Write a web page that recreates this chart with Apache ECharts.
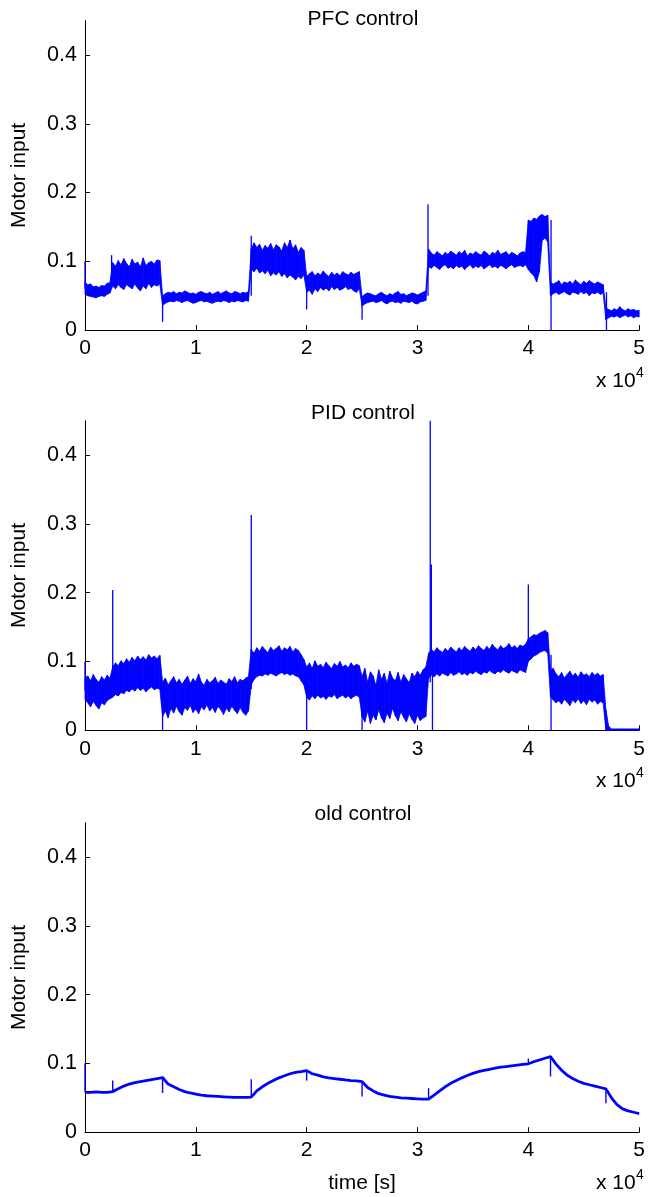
<!DOCTYPE html>
<html><head><meta charset="utf-8">
<script src="https://cdn.jsdelivr.net/npm/echarts@6/dist/echarts.min.js"></script>
<style>html,body{margin:0;padding:0;background:#fff}#c{width:648px;height:1197px}</style>
</head><body><div id="c"></div>
<script>
// ---------------- data ----------------
const panelTitles = ['PFC control', 'PID control', 'old control'];
const yTickValues = [0, 0.1, 0.2, 0.3, 0.4];
const xTickValues = [0, 10000, 20000, 30000, 40000, 50000];
const bandStep = 250;   // seconds between envelope samples (PFC, PID)
const oldStep = 500;    // seconds between samples (old control)

// PFC control: lower / upper envelope of the noisy signal
const pfcLo = [
  0.052,0.050,0.049,0.048,0.047,0.049,0.050,0.049,0.052,0.054,
  0.064,0.060,0.066,0.062,0.059,0.066,0.063,0.060,0.067,0.061,0.057,0.064,0.060,0.068,0.062,0.066,0.064,0.067,
  0.036,0.039,0.041,0.042,0.041,0.043,0.042,0.040,0.042,0.043,0.041,0.039,0.040,0.042,0.043,0.041,0.042,0.040,0.039,0.041,0.042,0.041,0.043,0.042,0.040,0.042,0.041,0.043,0.042,0.041,0.043,0.042,
  0.088,0.085,0.090,0.083,0.086,0.082,0.087,0.079,0.083,0.080,0.085,0.078,0.082,0.076,0.080,0.077,0.073,0.078,0.075,0.080,
  0.055,0.058,0.052,0.060,0.056,0.062,0.058,0.061,0.057,0.063,0.059,0.062,0.058,0.060,0.063,0.059,0.061,0.057,0.055,0.060,
  0.035,0.038,0.040,0.041,0.042,0.040,0.041,0.043,0.040,0.038,0.041,0.042,0.040,0.041,0.039,0.042,0.041,0.040,0.042,0.039,0.038,0.041,0.042,0.043,
  0.092,0.090,0.094,0.091,0.088,0.093,0.095,0.090,0.092,0.089,0.094,0.091,0.093,0.088,0.092,0.095,0.090,0.093,0.091,0.094,0.089,0.092,0.095,0.091,0.093,0.090,0.094,0.092,0.089,0.093,0.095,0.091,0.093,0.094,0.092,0.095,
  0.088,0.083,0.079,0.070,0.085,0.130,0.134,0.128,
  0.050,0.053,0.055,0.052,0.054,0.056,0.053,0.051,0.055,0.054,0.052,0.056,0.053,0.055,0.050,0.054,0.053,0.055,0.052,0.054,
  0.015,0.018,0.020,0.019,0.021,0.018,0.020,0.022,0.019,0.021,0.018,0.020,0.019
];
const pfcHi = [
  0.070,0.066,0.067,0.063,0.064,0.062,0.065,0.064,0.068,0.069,
  0.098,0.093,0.101,0.095,0.104,0.097,0.092,0.103,0.096,0.099,0.092,0.105,0.094,0.098,0.100,0.096,0.102,0.101,
  0.050,0.053,0.055,0.054,0.056,0.053,0.055,0.054,0.057,0.055,0.053,0.054,0.052,0.055,0.056,0.054,0.053,0.055,0.052,0.054,0.056,0.053,0.055,0.057,0.054,0.053,0.056,0.055,0.053,0.055,0.054,0.056,
  0.118,0.127,0.120,0.125,0.116,0.123,0.119,0.126,0.117,0.124,0.121,0.115,0.127,0.120,0.131,0.118,0.124,0.113,0.120,0.116,
  0.078,0.082,0.085,0.079,0.083,0.080,0.086,0.081,0.078,0.084,0.080,0.083,0.079,0.085,0.082,0.080,0.084,0.081,0.083,0.085,
  0.048,0.052,0.054,0.053,0.051,0.050,0.053,0.055,0.052,0.050,0.053,0.051,0.054,0.056,0.052,0.053,0.050,0.052,0.054,0.053,0.051,0.053,0.055,0.057,
  0.118,0.112,0.109,0.114,0.111,0.108,0.113,0.110,0.115,0.112,0.109,0.114,0.111,0.116,0.108,0.112,0.110,0.114,0.111,0.109,0.115,0.112,0.108,0.113,0.111,0.116,0.110,0.112,0.114,0.109,0.113,0.111,0.108,0.112,0.114,0.113,
  0.160,0.158,0.163,0.161,0.166,0.168,0.165,0.167,
  0.070,0.067,0.069,0.072,0.066,0.070,0.068,0.071,0.067,0.073,0.069,0.066,0.071,0.068,0.072,0.069,0.067,0.070,0.068,0.066,
  0.032,0.030,0.028,0.031,0.029,0.034,0.030,0.028,0.031,0.029,0.030,0.028,0.029
];
// [time, from, to]
const pfcSpikes = [[0,0.060,0.100],[2400,0.065,0.109],[7000,0.050,0.012],[15000,0.050,0.137],[20000,0.075,0.030],
  [25000,0.050,0.015],[30950,0.050,0.183],[42050,0.160,0.0],[47050,0.055,0.0]];

// PID control
const pidLo = [
  0.045,0.040,0.034,0.042,0.036,0.031,0.040,0.037,0.043,0.046,
  0.048,0.052,0.050,0.055,0.053,0.058,0.056,0.060,0.057,0.062,0.058,0.061,0.056,0.060,0.063,0.059,0.061,0.060,
  0.020,0.028,0.018,0.032,0.025,0.035,0.027,0.022,0.033,0.029,0.036,0.026,0.031,0.024,0.034,0.030,0.037,0.028,0.033,0.026,0.035,0.030,0.023,0.032,0.027,0.035,0.029,0.024,0.033,0.026,0.022,0.028,
  0.066,0.074,0.078,0.080,0.079,0.082,0.080,0.083,0.081,0.079,0.082,0.084,0.081,0.083,0.080,0.082,0.079,0.078,0.072,0.066,
  0.048,0.044,0.050,0.046,0.051,0.047,0.049,0.045,0.050,0.048,0.052,0.046,0.049,0.051,0.047,0.050,0.046,0.049,0.051,0.048,
  0.020,0.012,0.028,0.010,0.022,0.015,0.030,0.018,0.011,0.025,0.017,0.032,0.021,0.014,0.027,0.019,0.012,0.024,0.016,0.010,0.022,0.014,0.018,0.020,
  0.076,0.080,0.078,0.082,0.079,0.083,0.081,0.079,0.084,0.080,0.082,0.085,0.081,0.083,0.080,0.084,0.082,0.086,0.083,0.081,0.085,0.083,0.087,0.084,0.082,0.086,0.084,0.088,0.085,0.083,0.087,0.085,0.083,0.088,0.086,0.084,
  0.100,0.104,0.108,0.110,0.113,0.115,0.116,0.112,
  0.048,0.044,0.040,0.043,0.038,0.045,0.041,0.036,0.044,0.040,0.046,0.039,0.043,0.037,0.045,0.041,0.044,0.038,0.042,0.040,
  0,0,0,0,0,0,0,0,0,0,0,0,0
];
const pidHi = [
  0.076,0.079,0.072,0.081,0.074,0.070,0.078,0.073,0.080,0.076,
  0.092,0.098,0.094,0.101,0.097,0.104,0.099,0.106,0.101,0.108,0.103,0.107,0.102,0.110,0.105,0.108,0.104,0.109,
  0.070,0.076,0.066,0.072,0.078,0.069,0.074,0.067,0.073,0.079,0.068,0.075,0.071,0.082,0.070,0.066,0.074,0.069,0.072,0.077,0.068,0.073,0.070,0.067,0.075,0.071,0.078,0.069,0.074,0.072,0.076,0.078,
  0.118,0.112,0.120,0.115,0.122,0.117,0.113,0.121,0.116,0.119,0.123,0.115,0.120,0.117,0.122,0.114,0.119,0.116,0.110,0.103,
  0.092,0.098,0.090,0.101,0.093,0.096,0.091,0.099,0.094,0.090,0.097,0.093,0.100,0.092,0.095,0.091,0.098,0.093,0.096,0.094,
  0.078,0.090,0.070,0.085,0.079,0.065,0.088,0.074,0.083,0.068,0.086,0.076,0.072,0.084,0.070,0.081,0.075,0.069,0.083,0.078,0.086,0.080,0.088,0.092,
  0.112,0.118,0.114,0.120,0.116,0.113,0.119,0.115,0.121,0.117,0.114,0.120,0.116,0.122,0.118,0.115,0.121,0.117,0.123,0.119,0.116,0.122,0.118,0.125,0.120,0.117,0.123,0.119,0.121,0.126,0.120,0.123,0.119,0.124,0.122,0.125,
  0.133,0.136,0.139,0.138,0.141,0.143,0.145,0.142,
  0.088,0.090,0.082,0.078,0.084,0.076,0.081,0.086,0.079,0.083,0.077,0.085,0.080,0.082,0.078,0.084,0.080,0.083,0.079,0.081,
  0.030,0.006,0.002,0.002,0.002,0.002,0.002,0.002,0.002,0.002,0.002,0.002,0.002
];
const pidSpikes = [[0,0.058,0.100],[2500,0.070,0.204],[7000,0.060,0.0],[15000,0.060,0.313],[20000,0.070,0.0],
  [25000,0.060,0.0],[31150,0.070,0.450],[31250,0.100,0.241],[31350,0.100,0.0],[40000,0.120,0.212],[42050,0.110,0.0]];

// old control (smooth signal)
const oldVal = [
  0.058,0.058,0.0585,0.058,0.058,0.059,
  0.063,0.067,0.070,0.072,0.0735,0.075,0.0765,0.078,0.0795,
  0.070,0.066,0.062,0.059,0.057,0.0555,0.054,0.053,0.0525,0.052,0.0515,0.051,0.0505,0.0505,0.0505,0.051,
  0.060,0.066,0.071,0.075,0.079,0.082,0.085,0.087,0.088,0.0895,
  0.085,0.083,0.0805,0.079,0.078,0.077,0.076,0.075,0.0745,0.0735,
  0.065,0.060,0.056,0.054,0.052,0.051,0.050,0.0495,0.049,0.0485,0.048,0.048,
  0.054,0.060,0.066,0.071,0.075,0.079,0.0825,0.0855,0.088,0.090,0.0915,0.093,0.0945,0.0955,0.0965,0.0975,0.0985,0.0995,
  0.1025,0.105,0.1075,0.110,
  0.099,0.090,0.083,0.078,0.074,0.071,0.069,0.067,0.065,0.063,
  0.050,0.040,0.034,0.031,0.029,0.027
];
const oldSpikes = [[0,0.058,0.100],[2500,0.059,0.075],[7000,0.0795,0.057],[15000,0.051,0.077],[20000,0.0895,0.075],
  [25000,0.0735,0.052],[31000,0.048,0.064],[40000,0.0995,0.107],[42000,0.110,0.081],[47000,0.063,0.042]];

// ---------------- chart ----------------
const BLUE = '#0000ff';
const FONT = '"Liberation Sans", Arial, sans-serif';
const gridTops = [20.6, 420.8, 822.7];
const gridH = 309.5;

function bandSeries(k, lo, hi) {
  const n = Math.min(lo.length, hi.length);
  const data = [];
  for (let i = 0; i < n; i++) data.push([i * bandStep, lo[i], hi[i]]);
  return {
    type: 'custom', xAxisIndex: k, yAxisIndex: k, silent: true, z: 3,
    data: data, encode: { x: 0, y: [1, 2] },
    renderItem: function (params, api) {
      const i = params.dataIndex;
      if (i >= data.length - 1) return { type: 'group', children: [] };
      const a = data[i], b = data[i + 1];
      const pts = [api.coord([a[0], a[1]]), api.coord([a[0], a[2]]), api.coord([b[0], b[2]]), api.coord([b[0], b[1]])];
      return { type: 'polygon', shape: { points: pts }, style: { fill: BLUE, stroke: BLUE, lineWidth: 0.8 } };
    }
  };
}
function spikeSeries(k, spikes, w) {
  return {
    type: 'custom', xAxisIndex: k, yAxisIndex: k, silent: true, z: 4,
    data: spikes, encode: { x: 0, y: [1, 2] },
    renderItem: function (params, api) {
      const p1 = api.coord([api.value(0), api.value(1)]);
      const p2 = api.coord([api.value(0), api.value(2)]);
      return { type: 'line', shape: { x1: p1[0], y1: p1[1], x2: p2[0], y2: p2[1] }, style: { stroke: BLUE, lineWidth: w } };
    }
  };
}

const grids = [], xAxes = [], yAxes = [];
for (let k = 0; k < 3; k++) {
  grids.push({ left: 85, width: 556, top: gridTops[k], height: gridH, containLabel: false });
  xAxes.push({
    gridIndex: k, type: 'value', min: 0, max: 50000, interval: 10000,
    axisLine: { show: true, lineStyle: { color: '#000', width: 1 } },
    axisTick: { show: true, inside: true, length: 5, lineStyle: { color: '#000' } },
    axisLabel: { color: '#000', fontSize: 21, fontFamily: FONT, margin: 8, formatter: v => String(v / 10000) },
    splitLine: { show: false }
  });
  yAxes.push({
    gridIndex: k, type: 'value', min: 0, max: 0.45, interval: 0.1,
    name: 'Motor input', nameLocation: 'middle', nameRotate: 90, nameGap: 55,
    nameTextStyle: { color: '#000', fontSize: 21, fontFamily: FONT },
    axisLine: { show: true, lineStyle: { color: '#000', width: 1 } },
    axisTick: { show: true, inside: true, length: 5, lineStyle: { color: '#000' }, customValues: yTickValues },
    axisLabel: { color: '#000', fontSize: 21.5, fontFamily: FONT, margin: 8, customValues: yTickValues, formatter: v => String(v) },
    splitLine: { show: false }
  });
}

const oldData = oldVal.map((v, i) => [i * oldStep, v]);

const titleCenters = [19, 413, 814];
const graphics = [];
for (let k = 0; k < 3; k++) {
  graphics.push({ type: 'text', x: 363, y: titleCenters[k], silent: true,
    style: { text: panelTitles[k], font: '21px ' + FONT, fill: '#000', align: 'center', verticalAlign: 'middle' } });
  const axisY = gridTops[k] + gridH;
  graphics.push({ type: 'text', x: 596, y: axisY + 51, silent: true,
    style: { text: 'x 10', font: '21px ' + FONT, fill: '#000', align: 'left', verticalAlign: 'middle' } });
  graphics.push({ type: 'text', x: 636, y: axisY + 43, silent: true,
    style: { text: '4', font: '14px ' + FONT, fill: '#000', align: 'left', verticalAlign: 'middle' } });
}
graphics.push({ type: 'text', x: 362, y: gridTops[2] + gridH + 51, silent: true,
  style: { text: 'time [s]', font: '21px ' + FONT, fill: '#000', align: 'center', verticalAlign: 'middle' } });

const chart = echarts.init(document.getElementById('c'), null, { renderer: 'canvas' });
chart.setOption({
  animation: false,
  backgroundColor: '#fff',
  grid: grids, xAxis: xAxes, yAxis: yAxes,
  graphic: graphics,
  series: [
    bandSeries(0, pfcLo, pfcHi), spikeSeries(0, pfcSpikes, 1.3),
    bandSeries(1, pidLo, pidHi), spikeSeries(1, pidSpikes, 1.3),
    { type: 'line', xAxisIndex: 2, yAxisIndex: 2, data: oldData, showSymbol: false, symbol: 'none', silent: true, z: 3,
      lineStyle: { color: BLUE, width: 2.8 } },
    spikeSeries(2, oldSpikes, 1.4)
  ]
});
</script>
</body></html>
